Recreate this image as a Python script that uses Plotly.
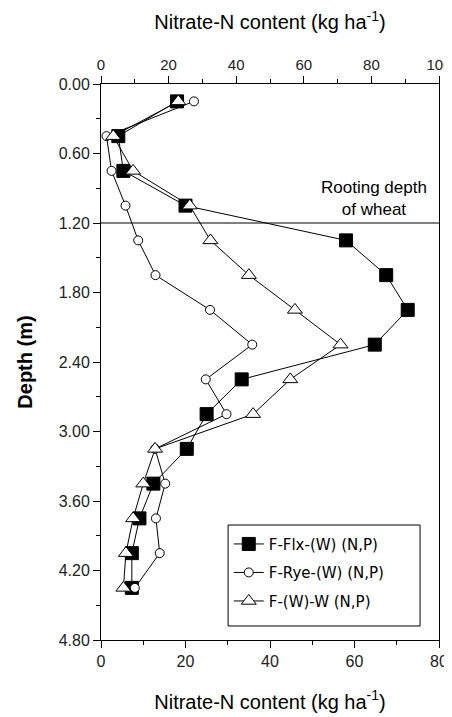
import plotly.graph_objects as go

depth = [0.15, 0.45, 0.75, 1.05, 1.35, 1.65, 1.95, 2.25, 2.55, 2.85, 3.15, 3.45, 3.75, 4.05, 4.35]
flx = [18.0, 4.1, 5.3, 20.0, 58.0, 67.5, 72.6, 64.8, 33.3, 25.0, 20.3, 12.4, 9.1, 7.3, 7.3]
rye = [22.0, 1.3, 2.5, 5.8, 8.8, 12.9, 25.8, 35.8, 24.8, 29.7, 12.8, 15.2, 13.0, 13.9, 8.0]
wheat = [18.3, 2.9, 7.6, 21.0, 25.9, 35.0, 45.9, 56.7, 44.8, 36.0, 12.8, 10.0, 7.6, 5.9, 5.3]
names = ["F-Flx-(W) (N,P)", "F-Rye-(W) (N,P)", "F-(W)-W (N,P)"]
root_depth = 1.2
y_ticks = [0.0, 0.6, 1.2, 1.8, 2.4, 3.0, 3.6, 4.2, 4.8]

FONT = "Liberation Sans, Arial, sans-serif"

fig = go.Figure()
fig.add_trace(go.Scatter(x=flx, y=depth, name=names[0], legendgroup="a", mode="lines+markers",
                         line=dict(color="black", width=1),
                         marker=dict(symbol="square", size=13, color="black",
                                     line=dict(color="black", width=1))))
fig.add_trace(go.Scatter(x=rye, y=depth, name=names[1], legendgroup="b", mode="lines+markers",
                         line=dict(color="black", width=1),
                         marker=dict(symbol="circle", size=9, color="white",
                                     line=dict(color="black", width=1))))
fig.add_trace(go.Scatter(x=wheat, y=depth, name=names[2], legendgroup="c", mode="lines+markers",
                         line=dict(color="black", width=1),
                         marker=dict(symbol="triangle-up", size=13, color="white",
                                     line=dict(color="black", width=1))))
# invisible trace to anchor top axis
fig.add_trace(go.Scatter(x=[0, 100], y=[0, 0], xaxis="x2", mode="markers",
                         marker=dict(opacity=0), showlegend=False, hoverinfo="skip"))

fig.add_shape(type="line", xref="paper", x0=0, x1=1, yref="y", y0=root_depth, y1=root_depth,
              line=dict(color="black", width=1))
# legend frame
fig.add_shape(type="rect", xref="paper", yref="paper", x0=0.376, x1=0.944, y0=0.0252, y1=0.2068,
              line=dict(color="black", width=1), fillcolor="white", layer="below")
fig.add_annotation(text="Rooting depth<br>of wheat", xref="paper", x=0.969, yref="y", y=root_depth,
                   yshift=2, xanchor="right", yanchor="bottom", align="center", showarrow=False,
                   font=dict(family=FONT, size=17, color="black"))

axis_common = dict(showline=True, linecolor="black", linewidth=1, ticks="outside",
                   ticklen=7, tickcolor="black", showgrid=False, zeroline=False,
                   automargin=False)

fig.update_layout(
    width=444, height=709,
    margin=dict(l=93, r=13, t=76, b=77),
    paper_bgcolor="white", plot_bgcolor="white",
    showlegend=True,
    legend=dict(x=0.378, y=0.202, xanchor="left", yanchor="top",
                borderwidth=0, bgcolor="rgba(0,0,0,0)",
                font=dict(family="DejaVu Sans, sans-serif", size=15, color="black"),
                tracegroupgap=6, itemwidth=30),
    xaxis=dict(range=[0, 80], tickvals=[0, 20, 40, 60, 80],
               minor=dict(ticks="outside", ticklen=4, dtick=10, tickcolor="black"),
               tickfont=dict(family=FONT, size=16, color="#222"),
               title=dict(text="Nitrate-N content (kg ha<sup>-1</sup>)",
                          font=dict(family=FONT, size=20, color="black"), standoff=25),
               **axis_common),
    xaxis2=dict(range=[0, 100], overlaying="x", side="top", tickvals=[0, 20, 40, 60, 80, 100],
                minor=dict(ticks="outside", ticklen=4, dtick=10, tickcolor="black"),
                tickfont=dict(family=FONT, size=15, color="#222"),
                title=dict(text="Nitrate-N content (kg ha<sup>-1</sup>)",
                           font=dict(family=FONT, size=20, color="black"), standoff=24),
                **axis_common),
    yaxis=dict(range=[4.8, 0], tickvals=y_ticks, tickformat=".2f", mirror=True,
               minor=dict(ticks="outside", ticklen=4, dtick=0.3, tickcolor="black"),
               tickfont=dict(family=FONT, size=16, color="#222"),
               title=dict(text="<b>Depth (m)</b>",
                          font=dict(family=FONT, size=20, color="black"), standoff=20),
               **axis_common),
)

fig.write_html("out.html")
